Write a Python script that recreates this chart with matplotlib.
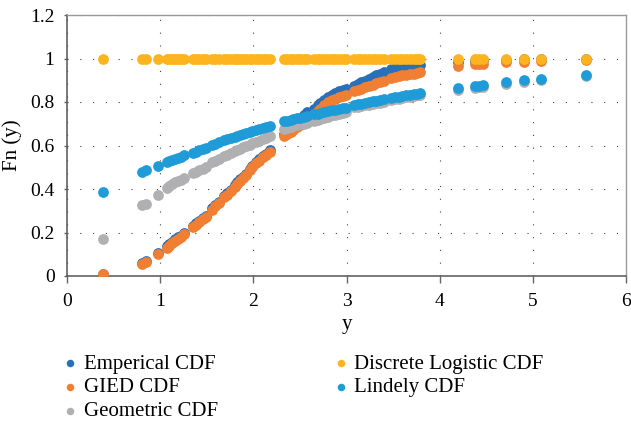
import matplotlib
matplotlib.use("Agg")
import matplotlib.pyplot as plt

plt.rcParams['font.family'] = ['Liberation Serif', 'DejaVu Serif']

x_vals = [0.39, 0.81, 0.85, 0.98,
          1.07, 1.10, 1.13, 1.16, 1.19, 1.22, 1.26,
          1.35, 1.38, 1.42, 1.46, 1.49,
          1.56, 1.59, 1.63,
          1.69, 1.72, 1.76,
          1.80, 1.83, 1.86, 1.89, 1.92,
          1.96, 1.99, 2.03, 2.06,
          2.10, 2.14, 2.18,
          2.33, 2.36, 2.40, 2.43, 2.47, 2.50, 2.54, 2.58,
          2.65, 2.69, 2.72, 2.76, 2.80, 2.84, 2.88, 2.92, 2.96, 2.99,
          3.08, 3.12, 3.16, 3.20, 3.24, 3.28, 3.32, 3.36, 3.40,
          3.48, 3.52, 3.56, 3.60, 3.64, 3.68, 3.72, 3.76, 3.79,
          4.20, 4.38, 4.42, 4.46, 4.71, 4.91, 5.09, 5.57]

emperical = [0.010, 0.062, 0.070, 0.104,
             0.138, 0.146, 0.158, 0.168, 0.178, 0.186, 0.196,
             0.232, 0.242, 0.254, 0.266, 0.276,
             0.312, 0.328, 0.340,
             0.370, 0.380, 0.394,
             0.418, 0.430, 0.444, 0.456, 0.468,
             0.494, 0.508, 0.522, 0.536,
             0.552, 0.562, 0.580,
             0.655, 0.668, 0.685, 0.700, 0.715, 0.728, 0.740, 0.752,
             0.770, 0.784, 0.796, 0.810, 0.825, 0.834, 0.842, 0.849, 0.855, 0.860,
             0.872, 0.882, 0.890, 0.898, 0.906, 0.914, 0.922, 0.930, 0.938,
             0.954, 0.957, 0.959, 0.961, 0.963, 0.966, 0.968, 0.970, 0.972,
             0.985, 0.988, 0.990, 0.992, 0.994, 0.996, 0.998, 1.000]

gied = [0.008, 0.057, 0.065, 0.100,
        0.130, 0.140, 0.152, 0.163, 0.172, 0.181, 0.192,
        0.225, 0.236, 0.248, 0.261, 0.272,
        0.305, 0.321, 0.335,
        0.362, 0.374, 0.390,
        0.411, 0.424, 0.438, 0.451, 0.465,
        0.488, 0.503, 0.518, 0.531,
        0.545, 0.556, 0.572,
        0.645, 0.653, 0.663, 0.672, 0.683, 0.693, 0.705, 0.718,
        0.745, 0.760, 0.770, 0.784, 0.798, 0.808, 0.816, 0.822, 0.828, 0.832,
        0.850, 0.856, 0.862, 0.868, 0.874, 0.880, 0.886, 0.892, 0.898,
        0.912, 0.915, 0.919, 0.922, 0.925, 0.928, 0.931, 0.934, 0.937,
        0.967, 0.973, 0.975, 0.977, 0.982, 0.986, 0.990, 0.995]

geometric = [0.170, 0.325, 0.332, 0.372,
             0.405, 0.414, 0.422, 0.430, 0.437, 0.443, 0.452,
             0.473, 0.480, 0.486, 0.493, 0.500,
             0.522, 0.528, 0.536,
             0.550, 0.556, 0.565,
             0.574, 0.580, 0.586, 0.591, 0.597,
             0.604, 0.610, 0.616, 0.621,
             0.629, 0.636, 0.644,
             0.677, 0.681, 0.686, 0.690, 0.694, 0.698, 0.701, 0.705,
             0.714, 0.719, 0.723, 0.728, 0.733, 0.738, 0.742, 0.747, 0.751, 0.755,
             0.776, 0.779, 0.782, 0.785, 0.788, 0.791, 0.794, 0.797, 0.800,
             0.810, 0.813, 0.816, 0.819, 0.822, 0.825, 0.828, 0.830, 0.832,
             0.857, 0.866, 0.868, 0.870, 0.884, 0.894, 0.901, 0.918]

discrete_logistic = [1.000, 1.000, 1.000, 1.000,
                     1.000, 1.000, 1.000, 1.000, 1.000, 1.000, 1.000,
                     1.000, 1.000, 1.000, 1.000, 1.000,
                     1.000, 1.000, 1.000,
                     1.000, 1.000, 1.000,
                     1.000, 1.000, 1.000, 1.000, 1.000,
                     1.000, 1.000, 1.000, 1.000,
                     1.000, 1.000, 1.000,
                     1.000, 1.000, 1.000, 1.000, 1.000, 1.000, 1.000, 1.000,
                     1.000, 1.000, 1.000, 1.000, 1.000, 1.000, 1.000, 1.000, 1.000, 1.000,
                     1.000, 1.000, 1.000, 1.000, 1.000, 1.000, 1.000, 1.000, 1.000,
                     1.000, 1.000, 1.000, 1.000, 1.000, 1.000, 1.000, 1.000, 1.000,
                     1.000, 1.000, 1.000, 1.000, 1.000, 1.000, 1.000, 1.000]

lindely = [0.385, 0.478, 0.488, 0.506,
           0.522, 0.527, 0.533, 0.538, 0.543, 0.549, 0.556,
           0.567, 0.572, 0.578, 0.585, 0.590,
           0.603, 0.609, 0.615,
           0.624, 0.628, 0.634,
           0.640, 0.644, 0.648, 0.653, 0.658,
           0.663, 0.667, 0.671, 0.675,
           0.680, 0.685, 0.690,
           0.711, 0.714, 0.718, 0.721, 0.725, 0.728, 0.732, 0.736,
           0.743, 0.747, 0.750, 0.754, 0.758, 0.762, 0.765, 0.768, 0.771, 0.773,
           0.787, 0.790, 0.793, 0.796, 0.800, 0.803, 0.806, 0.809, 0.812,
           0.819, 0.822, 0.824, 0.827, 0.830, 0.832, 0.835, 0.838, 0.840,
           0.863, 0.872, 0.874, 0.876, 0.890, 0.900, 0.907, 0.924]

series = [("Emperical CDF", emperical, "#2a6fba"),
          ("GIED CDF", gied, "#f07f33"),
          ("Geometric CDF", geometric, "#b0b0b2"),
          ("Discrete Logistic CDF", discrete_logistic, "#fdb41f"),
          ("Lindely CDF", lindely, "#1f9cd8")]

x_ticks = [0, 1, 2, 3, 4, 5, 6]
y_ticks = [0, 0.2, 0.4, 0.6, 0.8, 1.0, 1.2]
y_tick_labels = ["0", "0.2", "0.4", "0.6", "0.8", "1", "1.2"]

fig = plt.figure(figsize=(6.31, 4.22), dpi=100)
ax = fig.add_axes([67/631, 1-276/422, (626-67)/631, (276-15)/422])

for label, vals, col in series:
    ax.scatter(x_vals, vals, s=60, color=col, label=label, linewidths=0, zorder=3)

ax.set_xlim(0, 6)
ax.set_ylim(0, 1.2)
ax.set_xticks(x_ticks)
ax.set_yticks(y_ticks)
ax.set_yticklabels(y_tick_labels)
ax.tick_params(axis='x', direction='out', length=5, width=1, color='#666666', labelsize=14, pad=7)
ax.tick_params(axis='y', direction='out', length=2, width=1, color='#666666', labelsize=14, pad=7)

ax.grid(True, color='#444444', linewidth=0.8, linestyle=(0, (1, 10.5)))
ax.set_axisbelow(True)

for side in ['left', 'bottom']:
    ax.spines[side].set_color('#555555')
    ax.spines[side].set_linewidth(1.1)
for side in ['top', 'right']:
    ax.spines[side].set_color('#9a9a9a')
    ax.spines[side].set_linewidth(1.0)

ax.set_xlabel("y", fontsize=15, labelpad=4)
ax.set_ylabel("Fn (y)", fontsize=15, labelpad=6)

leg = fig.legend(loc='upper left', bbox_to_anchor=(64/631, 1-354/422), ncol=2,
                 frameon=False, fontsize=15, handlelength=0.6, handletextpad=0.35,
                 labelspacing=0.2, columnspacing=5.6, borderpad=0, borderaxespad=0,
                 markerscale=0.7)

fig.savefig("out.png", dpi=100)
